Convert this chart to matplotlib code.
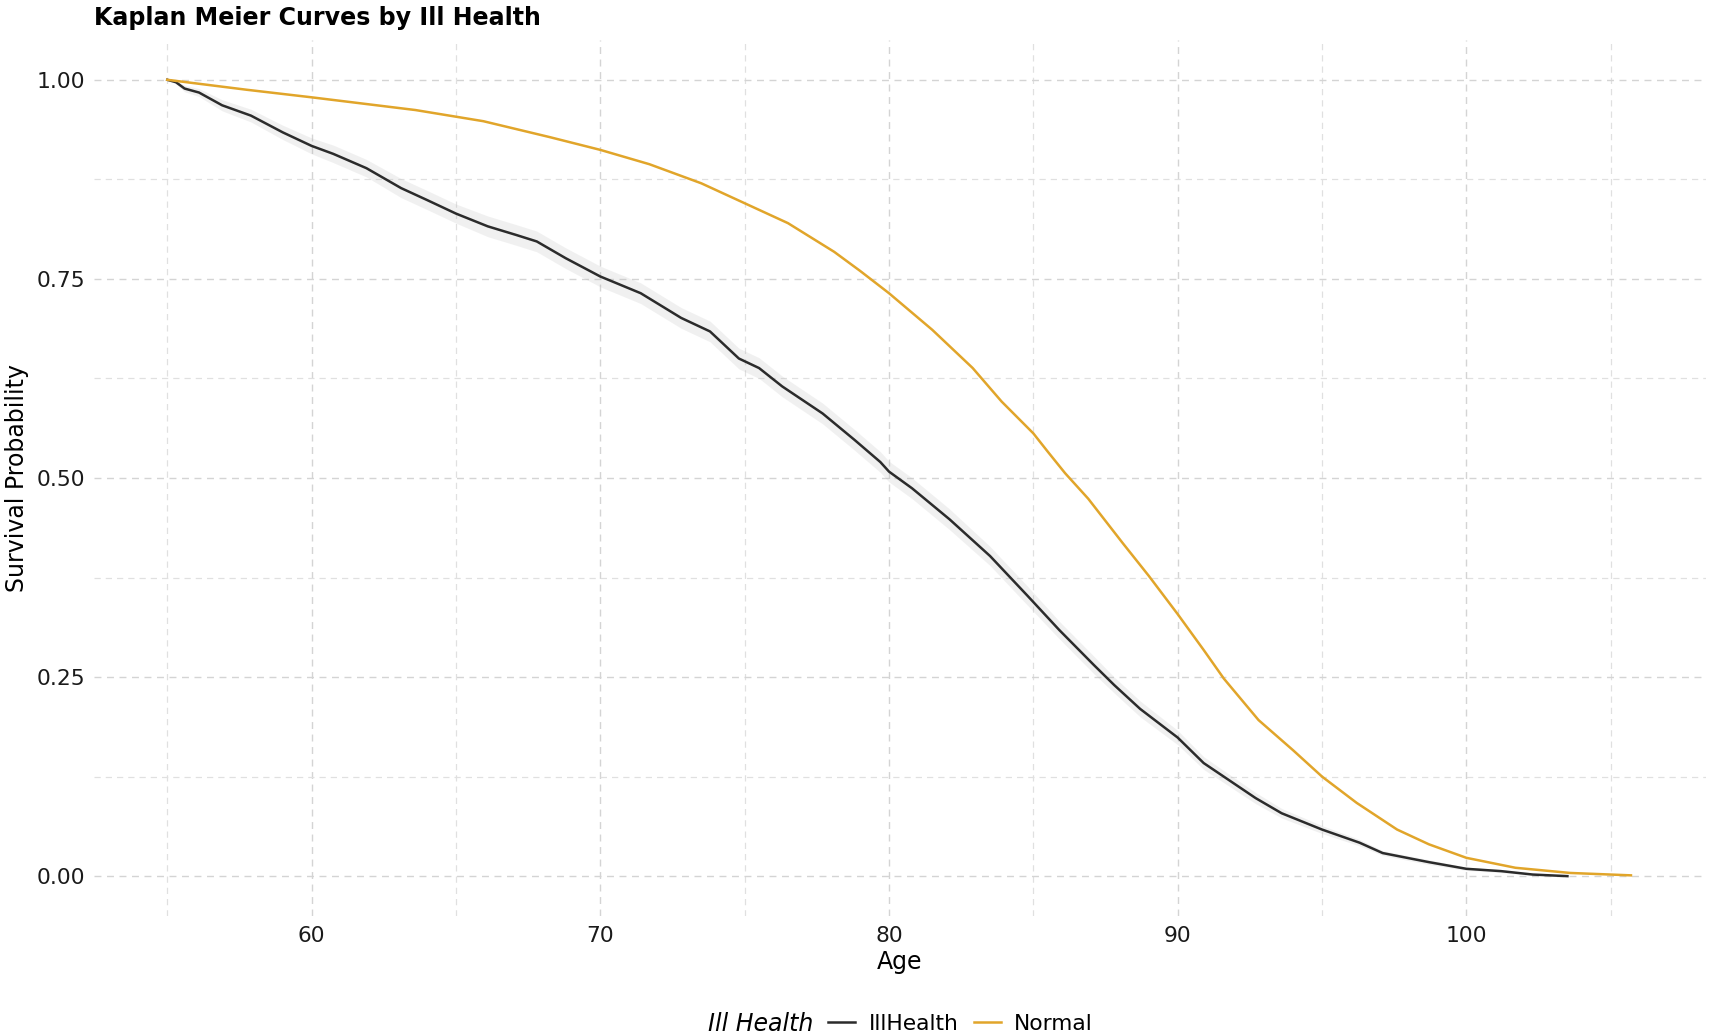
import numpy as np
import matplotlib
matplotlib.use("Agg")
import matplotlib.pyplot as plt
from matplotlib.lines import Line2D

# Kaplan-Meier estimates
ill_age = [55, 55.3, 55.6, 56.1, 56.9, 57.9, 59, 60, 60.75, 61.9, 63.1, 64, 65,
           66.1, 67.1, 67.8, 68.8, 70, 71.4, 72.8, 73.8, 74.8, 75.5, 76.3, 77.7,
           78.8, 79.7, 80, 80.8, 82.1, 83.5, 84.8, 85.9, 87.1, 87.8, 88.7, 90,
           90.9, 92.7, 93.6, 95, 96.3, 97.1, 98.7, 100, 101.2, 102.3, 103.5]
ill_surv = [1.0, 0.997, 0.989, 0.984, 0.968, 0.955, 0.934, 0.917, 0.907, 0.889,
            0.864, 0.849, 0.832, 0.816, 0.805, 0.797, 0.776, 0.753, 0.732, 0.701,
            0.684, 0.650, 0.638, 0.615, 0.581, 0.548, 0.520, 0.508, 0.487, 0.448,
            0.402, 0.352, 0.309, 0.265, 0.240, 0.210, 0.174, 0.142, 0.098, 0.079,
            0.0585, 0.042, 0.029, 0.0176, 0.0092, 0.0063, 0.002, 0.0]
# half width of the confidence band around the IllHealth curve
ill_ci = [0.0, 0.002, 0.004, 0.005, 0.007, 0.008, 0.009, 0.010, 0.011, 0.011,
          0.012, 0.012, 0.012, 0.013, 0.013, 0.013, 0.013, 0.013, 0.013, 0.013,
          0.013, 0.013, 0.013, 0.013, 0.013, 0.013, 0.013, 0.013, 0.013, 0.013,
          0.012, 0.012, 0.011, 0.011, 0.010, 0.010, 0.009, 0.008, 0.007, 0.006,
          0.005, 0.004, 0.003, 0.003, 0.002, 0.002, 0.001, 0.0]

norm_age = [55, 57.75, 60, 63.6, 65.95, 68.25, 70, 71.7, 73.5, 75, 76.5, 78.1,
            79.0, 80, 81.5, 82.9, 83.9, 85, 85.5, 86.1, 86.9, 88.1, 89.0, 90,
            90.9, 91.6, 92.8, 94.0, 95, 96.2, 97.6, 98.7, 100, 101.7, 103.6, 105.7]
norm_surv = [1.0, 0.9875, 0.978, 0.962, 0.948, 0.928, 0.912, 0.894, 0.870, 0.845,
             0.820, 0.784, 0.760, 0.732, 0.686, 0.638, 0.596, 0.556, 0.533, 0.506,
             0.474, 0.418, 0.377, 0.329, 0.284, 0.248, 0.196, 0.158, 0.125, 0.092,
             0.0585, 0.040, 0.023, 0.0105, 0.004, 0.001]

groups = ["IllHealth", "Normal"]
colors = ["#2b2b2b", "#E1A52A"]

plt.rcParams['font.family'] = ['DejaVu Sans']

fig = plt.figure(figsize=(17.17, 10.33), dpi=100)
ax = fig.add_axes([0.0547, 0.1133, 0.9389, 0.848])

ia = np.array(ill_age)
isv = np.array(ill_surv)
ici = np.array(ill_ci)
ax.fill_between(ia, isv - ici, isv + ici, color="#b0b0b0", alpha=0.18, lw=0)
ax.plot(ia, isv, color=colors[0], lw=1.8)
ax.plot(norm_age, norm_surv, color=colors[1], lw=1.8)

ax.set_xlim(52.46, 108.3)
ax.set_ylim(-0.05, 1.05)
ax.set_xticks([60, 70, 80, 90, 100])
ax.set_xticks([55, 65, 75, 85, 95, 105], minor=True)
ax.set_yticks([0, 0.25, 0.5, 0.75, 1.0])
ax.set_yticklabels(["0.00", "0.25", "0.50", "0.75", "1.00"])
ax.set_yticks([0.125, 0.375, 0.625, 0.875], minor=True)

ax.grid(which="major", color="#d4d4d4", linestyle=(0, (5, 4)), lw=1.0)
ax.grid(which="minor", color="#e0e0e0", linestyle=(0, (5, 4)), lw=0.9)
ax.set_axisbelow(True)
for s in ax.spines.values():
    s.set_visible(False)
ax.tick_params(which="both", length=0, labelsize=15.7, colors="#1a1a1a")
ax.tick_params(axis="y", pad=6)
ax.tick_params(axis="x", pad=7.5)

ax.set_xlabel("Age", fontsize=17)
ax.set_ylabel("Survival Probability", fontsize=17)
ax.xaxis.set_label_coords(0.5, -0.052)
ax.xaxis.label.set_va("center")
ax.yaxis.set_label_coords(-0.0475, 0.5)
ax.yaxis.label.set_va("center")

fig.text(0.0547, 0.983, "Kaplan Meier Curves by Ill Health", fontsize=17.1,
         fontweight="bold", ha="left", va="center")

# legend at the bottom with its title to the left
handles = [Line2D([], [], color=c, lw=1.8) for c in colors]
fig.text(0.474, 0.0087, "Ill Health", fontsize=17, style="italic",
         ha="right", va="center")
fig.legend(handles, groups, loc="center left", bbox_to_anchor=(0.4822, 0.0087),
           ncol=2, frameon=False, fontsize=15.7, handlelength=1.26,
           handletextpad=0.6, columnspacing=0.7, borderpad=0, borderaxespad=0)

fig.savefig("out.png", dpi=100)
